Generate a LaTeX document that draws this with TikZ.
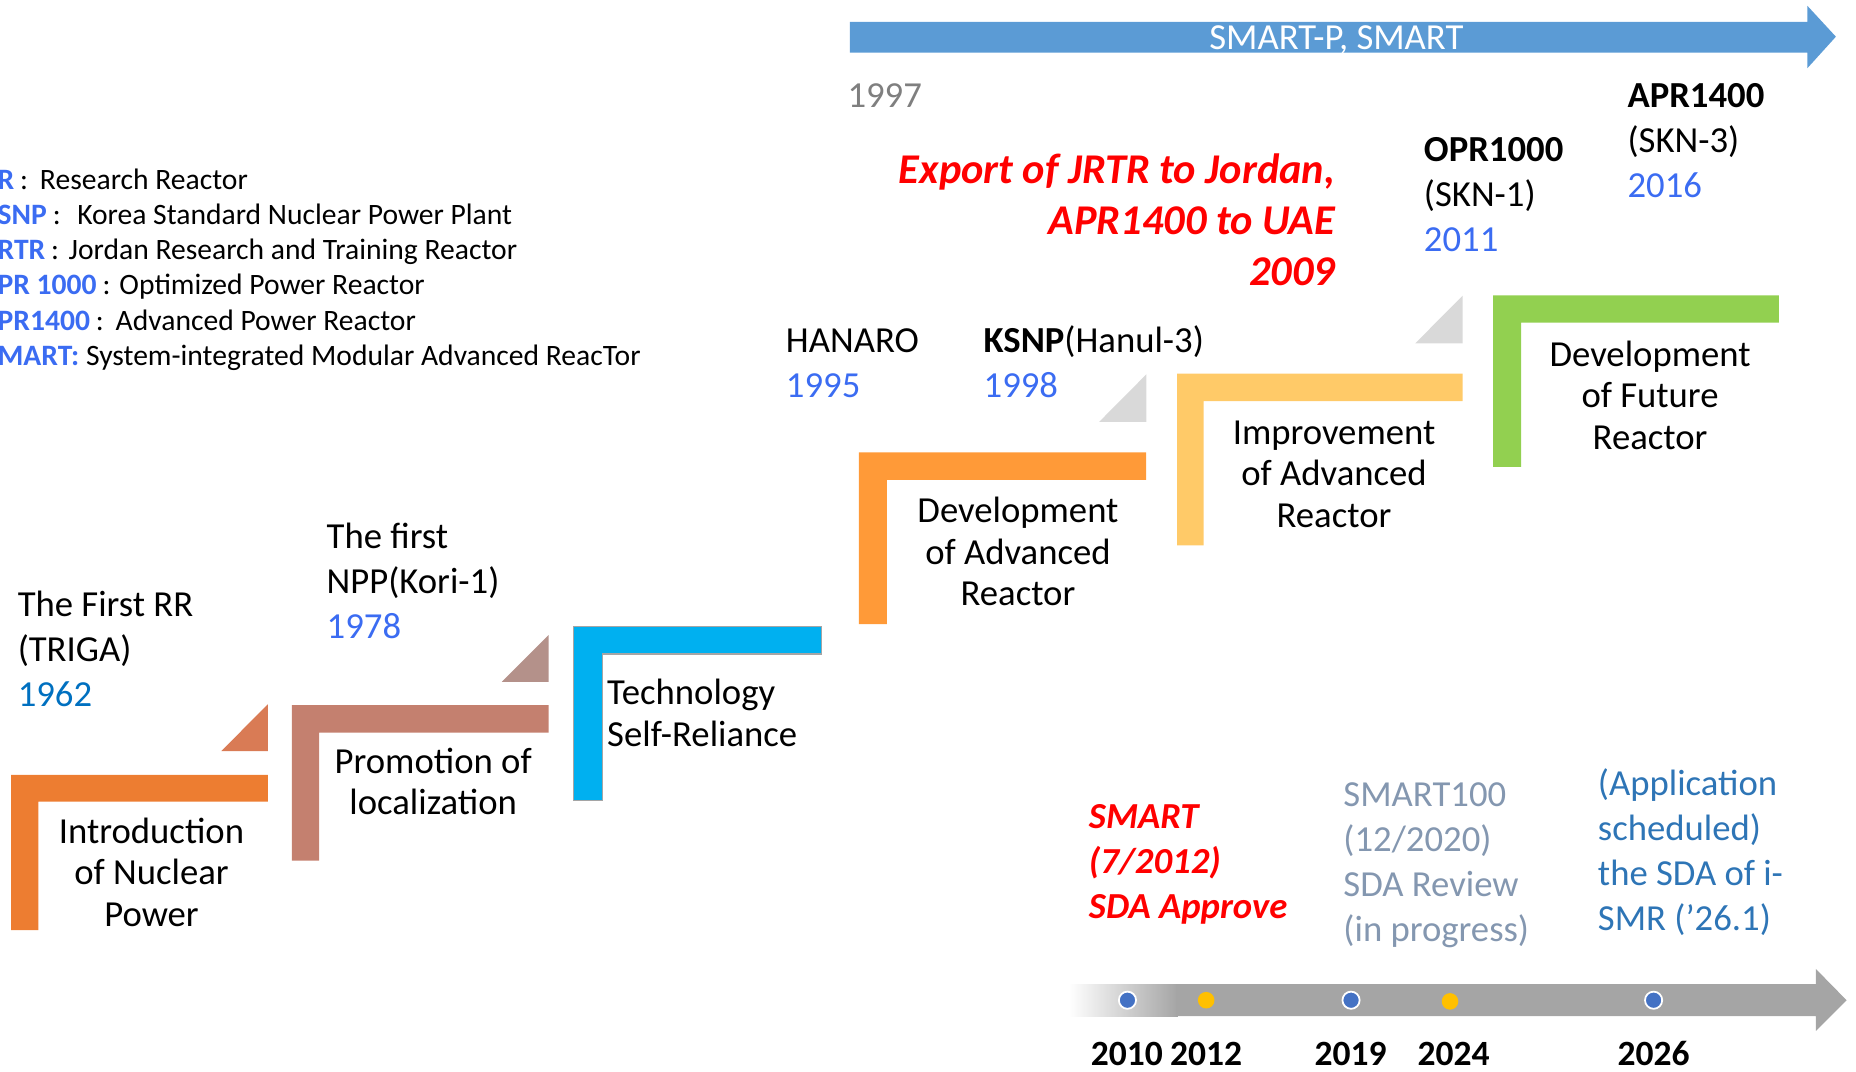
\documentclass[tikz,border=0pt]{standalone}
\usepackage{fontspec}
\setmainfont{Carlito}
\definecolor{cOrange}{HTML}{ED7D31}
\definecolor{cTriA}{HTML}{D97B55}
\definecolor{cRose}{HTML}{C4806F}
\definecolor{cTriB}{HTML}{B4918A}
\definecolor{cCyan}{HTML}{00B0F0}
\definecolor{cLtOrange}{HTML}{FF9A38}
\definecolor{cTriGray}{HTML}{D9D9D9}
\definecolor{cYellow}{HTML}{FFCA68}
\definecolor{cGreen}{HTML}{92D050}
\definecolor{cArrowBlue}{HTML}{5B9BD5}
\definecolor{cArrowGray}{HTML}{A5A5A5}
\definecolor{cYear}{HTML}{3B6CF2}
\definecolor{cYearDark}{HTML}{0070C0}
\definecolor{cRed}{HTML}{FF0000}
\definecolor{cGrayBlue}{HTML}{8497B0}
\definecolor{cAppBlue}{HTML}{2E75B6}
\definecolor{cGrayTxt}{HTML}{7F7F7F}
\definecolor{cDotBlue}{HTML}{4472C4}
\definecolor{cDotYellow}{HTML}{FFC000}
\begin{document}
\begin{tikzpicture}[x=1pt,y=-1pt,
  every node/.style={inner sep=0pt,outer sep=0pt},
  steptxt/.style={font=\fontsize{31}{35}\selectfont,align=center,anchor=base},
  lbl/.style={font=\fontsize{31}{38}\selectfont,align=left,anchor=base west},
  yr/.style={font=\fontsize{30}{34}\selectfont\bfseries,anchor=base},
  bluedot/.style={circle,fill=cDotBlue,draw=white,line width=1.5pt,minimum size=14.5pt},
  yellowdot/.style={circle,fill=cDotYellow,minimum size=14pt}
]
\useasboundingbox (0,0) rectangle (1568,905);

% ---------- top blue arrow ----------
\fill[cArrowBlue] (718,18.5) -- (1527,18.5) -- (1527,5) -- (1551,31) -- (1527,57.5) -- (1527,44.5) -- (718,44.5) -- cycle;
\node[font=\fontsize{31}{34}\selectfont,text=white,anchor=base] (smartp) at (1129,41.5) {SMART-P, SMART};

% ---------- bottom gray arrow ----------
\shade[left color=white,right color=cArrowGray] (903,831.5) rectangle (995,858.5);
\fill[cArrowGray] (994,831.5) -- (1534,831.5) -- (1534,818.5) -- (1560,845) -- (1534,871) -- (1534,858.5) -- (994,858.5) -- cycle;
\node[bluedot] (d2010) at (952.5,845) {};
\node[yellowdot] (d2012) at (1019,845) {};
\node[bluedot] (d2019) at (1141.4,845) {};
\node[yellowdot] (d2024) at (1225,846) {};
\node[bluedot] (d2026) at (1397,845) {};
\node[yr] (y2010) at (952,900) {2010};
\node[yr] (y2012) at (1019,900) {2012};
\node[yr] (y2019) at (1141,900) {2019};
\node[yr] (y2024) at (1228,900) {2024};
\node[yr] (y2026) at (1397,900) {2026};

% ---------- steps ----------
% step 1
\fill[cTriA] (187,634.5) -- (226.2,634.5) -- (226.2,595) -- cycle;
\fill[cOrange] (9.3,654.7) -- (226.2,654.7) -- (226.2,677.3) -- (32.4,677.3) -- (32.4,785.7) -- (9.3,785.7) -- cycle;
\node[steptxt] (s1) at (128,782.5) {Introduction\\of Nuclear\\Power};
% step 2
\fill[cTriB] (424,576) -- (463.4,576) -- (463.4,536.5) -- cycle;
\fill[cRose] (246.5,595.6) -- (463.4,595.6) -- (463.4,619) -- (269.7,619) -- (269.7,727) -- (246.5,727) -- cycle;
\node[steptxt] (s2) at (366,688.5) {Promotion of\\localization};
% step 3
\filldraw[fill=cCyan,draw=cArrowGray,line width=1.2pt] (484.3,529.4) -- (694,529.4) -- (694,552.5) -- (508.8,552.5) -- (508.8,676.4) -- (484.3,676.4) -- cycle;
\node[steptxt,align=left,anchor=base west] (s3) at (513,630.5) {Technology\\Self-Reliance};
% step 4
\fill[cTriGray] (928.5,356.5) -- (968.5,356.5) -- (968.5,316.2) -- cycle;
\fill[cLtOrange] (725.6,382.1) -- (968.2,382.1) -- (968.2,405.5) -- (749.3,405.5) -- (749.3,527.2) -- (725.6,527.2) -- cycle;
\node[steptxt] (s4) at (860,511.5) {Development\\of Advanced\\Reactor};
% step 5
\fill[cTriGray] (1195.7,290) -- (1235.6,290) -- (1235.6,249.8) -- cycle;
\fill[cYellow] (994.5,315.7) -- (1235.6,315.7) -- (1235.6,338.8) -- (1016.9,338.8) -- (1016.9,460.7) -- (994.5,460.7) -- cycle;
\node[steptxt] (s5) at (1127,445.5) {Improvement\\of Advanced\\Reactor};
% step 6
\fill[cGreen] (1261.4,249.5) -- (1502.8,249.5) -- (1502.8,272.6) -- (1285,272.6) -- (1285,394.5) -- (1261.4,394.5) -- cycle;
\node[steptxt] (s6) at (1394,379.5) {Development\\of Future\\Reactor};

% ---------- milestone labels ----------
\node[lbl] (triga) at (15,596.5) {The First RR\\(TRIGA)\\\textcolor{cYearDark}{1962}};
\node[lbl] (kori) at (276,539.5) {The first\\NPP(Kori-1)\\\textcolor{cYear}{1978}};
\node[lbl] (hanaro) at (664,335.5) {HANARO\\\textcolor{cYear}{1995}};
\node[lbl] (ksnp) at (831,335.5) {\textbf{KSNP}(Hanul-3)\\\textcolor{cYear}{1998}};
\node[lbl,text=cGrayTxt] (y1997) at (716,90.5) {1997};
\node[lbl] (apr) at (1375,166.5) {\textbf{APR1400}\\(SKN-3)\\\textcolor{cYear}{2016}};
\node[lbl] (opr) at (1203,212.5) {\textbf{OPR1000}\\(SKN-1)\\\textcolor{cYear}{2011}};
\node[font=\fontsize{35.8}{43}\selectfont\bfseries\itshape,text=cRed,align=right,anchor=base east] (export) at (1128,241) {Export of JRTR to Jordan,\\APR1400 to UAE\\2009};

% ---------- SDA labels ----------
\node[lbl,font=\fontsize{31}{38}\selectfont\bfseries\itshape,text=cRed] (sda1) at (920,776) {SMART\\(7/2012)\\SDA Approve};
\node[lbl,text=cGrayBlue] (sda2) at (1135,795) {SMART100\\(12/2020)\\SDA Review\\(in progress)};
\node[lbl,text=cAppBlue] (sda3) at (1350,786) {(Application\\scheduled)\\the SDA of i-\\SMR (’26.1)};

% ---------- legend ----------
\node[font=\fontsize{25}{29.7}\selectfont,align=left,anchor=base west] (legend) at (-2,308.5) {%
\textcolor{cYear}{\textbf{R}}\hspace{5pt}:\hspace{10pt}Research Reactor\\
\textcolor{cYear}{\textbf{SNP}}\hspace{5pt}:\hspace{14pt}Korea Standard Nuclear Power Plant\\
\textcolor{cYear}{\textbf{RTR}}\hspace{5pt}:\hspace{8pt}Jordan Research and Training Reactor\\
\textcolor{cYear}{\textbf{PR 1000}}\hspace{5pt}: Optimized Power Reactor\\
\textcolor{cYear}{\textbf{PR1400}}\hspace{5pt}:\hspace{10pt}Advanced Power Reactor\\
\textcolor{cYear}{\textbf{MART:}} System-integrated Modular Advanced ReacTor};
\end{tikzpicture}
\end{document}
